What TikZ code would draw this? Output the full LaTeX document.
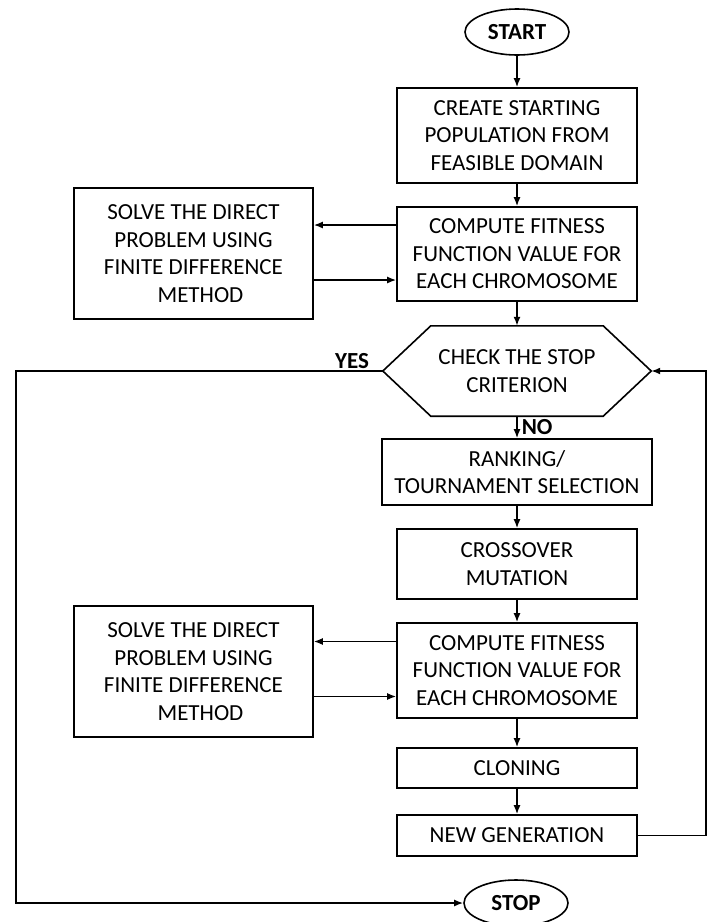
\documentclass[tikz,border=0pt]{standalone}
\usepackage{fontspec}
\setmainfont{Carlito}
\usepackage{tikz}
\usetikzlibrary{shapes,arrows.meta,positioning,calc}

\begin{document}
\begin{tikzpicture}[
    x=1pt, y=-1pt,
    every node/.style={align=center, font=\fontsize{23}{27.5}\selectfont},
    line/.style={draw=black, line width=1.6pt},
    arr/.style={line, -{Latex[length=9pt,width=7pt]}},
    process/.style={rectangle, line, inner sep=0pt, minimum width=240pt},
    terminal/.style={ellipse, line, inner sep=0pt, minimum width=104pt, minimum height=46pt, font=\fontsize{23}{27.5}\selectfont\bfseries},
    solver/.style={rectangle, line, inner sep=0pt, minimum width=239pt, minimum height=131pt},
    lbl/.style={font=\fontsize{23}{27.5}\selectfont\bfseries, inner sep=2pt}
]
\useasboundingbox (0,0) rectangle (708,922);

% main column
\node[terminal] (start) at (517,32) {START};
\node[process, minimum height=95pt] (create) at (517,135.5) {CREATE STARTING\\POPULATION FROM\\FEASIBLE DOMAIN};
\node[process, minimum height=94pt] (fit1) at (517,254) {COMPUTE FITNESS\\FUNCTION VALUE FOR\\EACH CHROMOSOME};
\node[rectangle, inner sep=0pt, minimum width=172pt, minimum height=90pt] (check) at (517,371) {CHECK THE STOP\\CRITERION};
\node[process, minimum width=270pt, minimum height=66pt] (rank) at (517,472) {RANKING/\\TOURNAMENT SELECTION};
\node[process, minimum height=70pt] (cross) at (517,564) {CROSSOVER\\MUTATION};
\node[process, minimum height=95pt] (fit2) at (517,670.5) {COMPUTE FITNESS\\FUNCTION VALUE FOR\\EACH CHROMOSOME};
\node[process, minimum height=40pt] (clone) at (517,768) {CLONING};
\node[process, minimum height=41pt] (newgen) at (517,835.5) {NEW GENERATION};
\node[terminal] (stop) at (516,903) {STOP};

% side boxes
\node[solver] (solve1) at (193.5,253.5) {SOLVE THE DIRECT\\PROBLEM USING\\FINITE DIFFERENCE\\\hspace{14pt}METHOD};
\node[solver] (solve2) at (193.5,671.5) {SOLVE THE DIRECT\\PROBLEM USING\\FINITE DIFFERENCE\\\hspace{14pt}METHOD};

% hexagon outline
\coordinate (checkL) at ([xshift=-48pt]check.west);
\coordinate (checkR) at ([xshift=48pt]check.east);
\draw[line] (check.north west) -- (check.north east) -- (checkR) -- (check.south east)
    -- (check.south west) -- (checkL) -- cycle;

% loop lines
\coordinate (yesline) at (16,0);
\coordinate (loopline) at (706,0);

\foreach \a/\b in {start/create, create/fit1, fit1/check, rank/cross, cross/fit2, fit2/clone, clone/newgen}
    \draw[arr] (\a) -- (\b);

\draw[arr] (check.south) -- node[lbl, right, xshift=2pt]{NO} (rank.north);

\foreach \f/\s in {fit1/solve1, fit2/solve2} {
    \draw[arr] ([yshift=29pt]\f.west) -- ([yshift=29pt]\f.west -| \s.east);
    \draw[arr] ([yshift=-26pt]\f.west -| \s.east) -- ([yshift=-26pt]\f.west);
}

\draw[arr] (checkL) -- node[lbl, pos=0.03, anchor=south east]{YES} (checkL -| yesline) |- (stop.west);
\draw[arr] (newgen.east) -- (newgen.east -| loopline) |- (checkR);

\end{tikzpicture}
\end{document}
